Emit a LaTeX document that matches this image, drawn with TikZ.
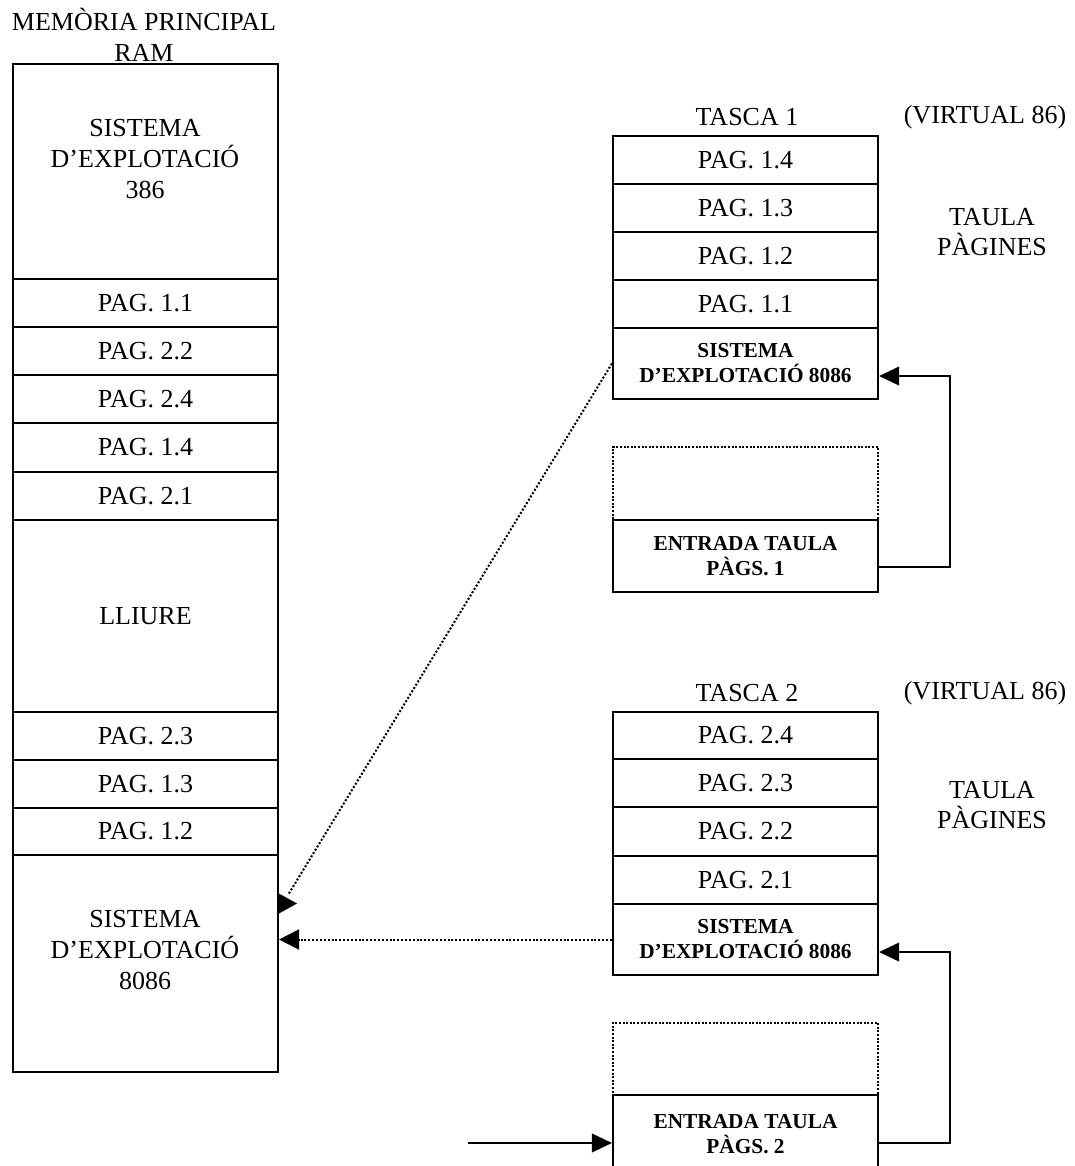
\documentclass[tikz,border=0pt]{standalone}
\usepackage{fontspec}
\setmainfont{Liberation Serif}
\usetikzlibrary{fit,arrows.meta}
\begin{document}
\begin{tikzpicture}[x=0.75pt,y=-0.75pt,
  cell/.style={draw, line width=1.6pt, inner sep=0pt},
  lbl/.style={align=center, inner sep=0pt, font=\fontsize{19.5}{23}\selectfont},
  blbl/.style={align=center, inner sep=0pt, font=\fontsize{16}{18.75}\selectfont\bfseries},
  dotbox/.style={draw, dash pattern=on 1.5pt off 1.2pt, line width=1.5pt, inner sep=0pt},
  conn/.style={line width=1.2pt, -{Triangle[length=15pt,width=14pt]}},
  dotconn/.style={line width=1.5pt, dash pattern=on 1.5pt off 1.4pt},
]
\useasboundingbox (0,0) rectangle (1074,1166);

% ---- main memory column ----
\node[lbl] (title) at (144,35) {MEMÒRIA PRINCIPAL\\RAM};
\node[cell, fit={(13,64) (278,279)}] (so386) {};
\node[lbl] (so386t) at (145,159) {SISTEMA\\D’EXPLOTACIÓ\\386};
\node[cell, fit={(13,279) (278,327)}, label={[lbl]center:PAG. 1.1}] (m11) {};
\node[cell, fit={(13,327) (278,375)}, label={[lbl]center:PAG. 2.2}] (m22) {};
\node[cell, fit={(13,375) (278,423)}, label={[lbl]center:PAG. 2.4}] (m24) {};
\node[cell, fit={(13,423) (278,472)}, label={[lbl]center:PAG. 1.4}] (m14) {};
\node[cell, fit={(13,472) (278,520)}, label={[lbl]center:PAG. 2.1}] (m21) {};
\node[cell, fit={(13,520) (278,712)}, label={[lbl]center:LLIURE}] (lliure) {};
\node[cell, fit={(13,712) (278,760)}, label={[lbl]center:PAG. 2.3}] (m23) {};
\node[cell, fit={(13,760) (278,808)}, label={[lbl]center:PAG. 1.3}] (m13) {};
\node[cell, fit={(13,808) (278,855)}, label={[lbl]center:PAG. 1.2}] (m12) {};
\node[cell, fit={(13,855) (278,1072)}] (so8086) {};
\node[lbl] (so8086t) at (145,950) {SISTEMA\\D’EXPLOTACIÓ\\8086};

% ---- task 1 ----
\node[lbl] (tasca1) at (747,117) {TASCA 1};
\node[lbl] (virt1) at (985,117) {(VIRTUAL 86)};
\node[lbl] (taula1) at (992,232) {TAULA\\PÀGINES};
\node[cell, fit={(613,136) (878,184)}, label={[lbl]center:PAG. 1.4}] (t1p14) {};
\node[cell, fit={(613,184) (878,232)}, label={[lbl]center:PAG. 1.3}] (t1p13) {};
\node[cell, fit={(613,232) (878,280)}, label={[lbl]center:PAG. 1.2}] (t1p12) {};
\node[cell, fit={(613,280) (878,328)}, label={[lbl]center:PAG. 1.1}] (t1p11) {};
\node[cell, fit={(613,328) (878,399)}, label={[blbl]center:SISTEMA\\D’EXPLOTACIÓ 8086}] (t1so) {};
\node[dotbox, fit={(613,447) (878,520)}] (t1blank) {};
\node[cell, fit={(613,520) (878,592)}, label={[blbl]center:ENTRADA TAULA\\PÀGS. 1}] (t1ent) {};

% ---- task 2 ----
\node[lbl] (tasca2) at (747,693) {TASCA 2};
\node[lbl] (virt2) at (985,693) {(VIRTUAL 86)};
\node[lbl] (taula2) at (992,805) {TAULA\\PÀGINES};
\node[cell, fit={(613,712) (878,759)}, label={[lbl]center:PAG. 2.4}] (t2p24) {};
\node[cell, fit={(613,759) (878,807)}, label={[lbl]center:PAG. 2.3}] (t2p23) {};
\node[cell, fit={(613,807) (878,856)}, label={[lbl]center:PAG. 2.2}] (t2p22) {};
\node[cell, fit={(613,856) (878,904)}, label={[lbl]center:PAG. 2.1}] (t2p21) {};
\node[cell, fit={(613,904) (878,975)}, label={[blbl]center:SISTEMA\\D’EXPLOTACIÓ 8086}] (t2so) {};
\node[dotbox, fit={(613,1023) (878,1095)}] (t2blank) {};
\node[cell, fit={(613,1095) (878,1172)}] (t2ent) {};
\node[blbl] (t2entt) at (745.5,1134) {ENTRADA TAULA\\PÀGS. 2};

% ---- connectors ----
\draw[conn] ([yshift=-8.25pt]t1ent.east) -- ++(71,0) |- ([yshift=-9.4pt]t1so.east);
\draw[conn] ([yshift=-7.1pt]t2ent.east) -- ++(71,0) |- ([yshift=-9.4pt]t2so.east);
\coordinate (in2) at (468,1143);
\draw[conn] (in2) -- ([yshift=-7.1pt]t2ent.west);

\coordinate (d1end) at (288,895);
\draw[dotconn] (t1so.west) -- (d1end);
\fill (278,893) -- (297,903.5) -- (278,914) -- cycle;
\draw[dotconn, -{Triangle[length=15pt,width=15pt]}] (t2so.west) -- (so8086.east |- t2so.west);
\end{tikzpicture}
\end{document}
